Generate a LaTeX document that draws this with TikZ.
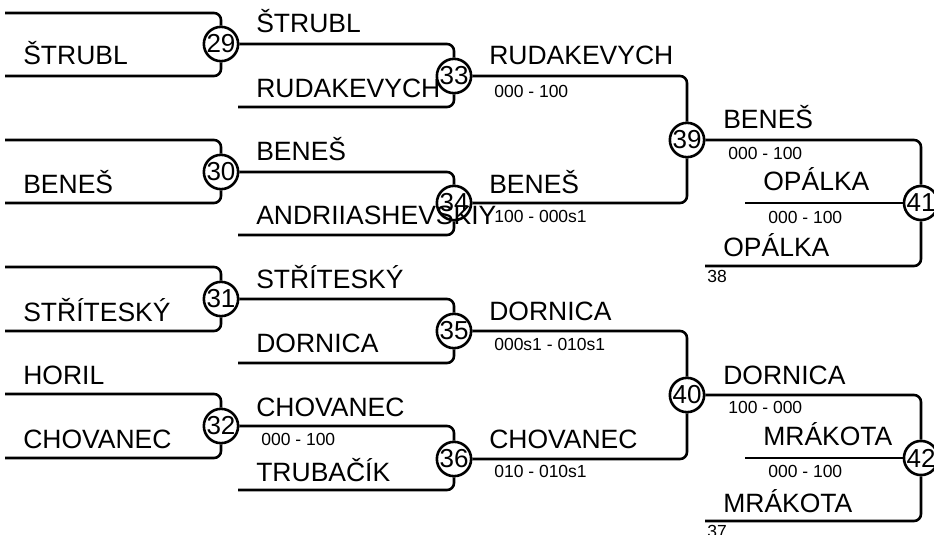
\documentclass[tikz,border=0pt]{standalone}
\usepackage{fontspec}
\setmainfont{Liberation Sans}

\begin{document}
\begin{tikzpicture}[x=1pt, y=-1pt, line width=2.6pt,
every node/.style={inner sep=0pt},
bout/.style={draw, circle, minimum size=34pt, font=\fontsize{26}{26}\selectfont},
player/.style={anchor=base west, font=\fontsize{26.5}{30}\selectfont},
result/.style={anchor=base west, font=\fontsize{17.5}{20}\selectfont},
]
\useasboundingbox (0,0) rectangle (934,535);

% bouts
\path
(221,44) node[bout] (m29) {29}
(221,172) node[bout] (m30) {30}
(221,299) node[bout] (m31) {31}
(221,426) node[bout] (m32) {32}
(454,76) node[bout] (m33) {33}
(454,203) node[bout] (m34) {34}
(454,331) node[bout] (m35) {35}
(454,459) node[bout] (m36) {36}
(687,140) node[bout] (m39) {39}
(687,395) node[bout] (m40) {40}
(921,203) node[bout] (m41) {41}
(921,458) node[bout] (m42) {42}
;

% free line ends
\path
(5,13) coordinate (t29) (5,76) coordinate (b29)
(5,140) coordinate (t30) (5,203) coordinate (b30)
(5,267) coordinate (t31) (5,331) coordinate (b31)
(5,394) coordinate (t32) (5,458) coordinate (b32)
(238,107) coordinate (b33) (238,235) coordinate (b34)
(238,363) coordinate (b35) (238,490) coordinate (b36)
(745,203) coordinate (c41) (705,266) coordinate (b41)
(745,458) coordinate (c42) (705,521) coordinate (b42)
;

% bracket lines
\begin{scope}[rounded corners=7pt]
\draw (t29) -| (m29) ;
\draw (b29) -| (m29) ;
\draw (t30) -| (m30) ;
\draw (b30) -| (m30) ;
\draw (t31) -| (m31) ;
\draw (b31) -| (m31) ;
\draw (t32) -| (m32) ;
\draw (b32) -| (m32) ;
\draw (m29) -| (m33) ;
\draw (b33) -| (m33) ;
\draw (m30) -| (m34) ;
\draw (b34) -| (m34) ;
\draw (m31) -| (m35) ;
\draw (b35) -| (m35) ;
\draw (m32) -| (m36) ;
\draw (b36) -| (m36) ;
\draw (m33) -| (m39) ;
\draw (m34) -| (m39) ;
\draw (m35) -| (m40) ;
\draw (m36) -| (m40) ;
\draw (m39) -| (m41) ;
\draw (c41) -- (m41) ;
\draw (b41) -| (m41) ;
\draw (m40) -| (m42) ;
\draw (c42) -- (m42) ;
\draw (b42) -| (m42) ;
\end{scope}

% players
\path
(22,65) node[player] (n1) {ŠTRUBL}
(22,193) node[player] (n2) {BENEŠ}
(22,321) node[player] (n3) {STŘÍTESKÝ}
(22,384) node[player] (n4) {HORIL}
(22,448) node[player] (n5) {CHOVANEC}
(255,33) node[player] (n6) {ŠTRUBL}
(255,97) node[player] (n7) {RUDAKEVYCH}
(255,160) node[player] (n8) {BENEŠ}
(255,224) node[player] (n9) {ANDRIIASHEVSKIY}
(255,288) node[player] (n10) {STŘÍTESKÝ}
(255,352) node[player] (n11) {DORNICA}
(255,416) node[player] (n12) {CHOVANEC}
(255,481) node[player] (n13) {TRUBAČÍK}
(488,65) node[player] (n14) {RUDAKEVYCH}
(488,193) node[player] (n15) {BENEŠ}
(488,320) node[player] (n16) {DORNICA}
(488,448) node[player] (n17) {CHOVANEC}
(722,128) node[player] (n18) {BENEŠ}
(762,190) node[player] (n19) {OPÁLKA}
(722,256) node[player] (n20) {OPÁLKA}
(722,384) node[player] (n21) {DORNICA}
(762,445) node[player] (n22) {MRÁKOTA}
(722,512) node[player] (n23) {MRÁKOTA}
;

% results
\path
(260,445) node[result] (s32) {000 - 100}
(493,97) node[result] (s33) {000 - 100}
(493,222) node[result] (s34) {100 - 000s1}
(493,350) node[result] (s35) {000s1 - 010s1}
(493,477) node[result] (s36) {010 - 010s1}
(727,159) node[result] (s39) {000 - 100}
(767,223) node[result] (s41) {000 - 100}
(727,413) node[result] (s40) {100 - 000}
(767,477) node[result] (s42) {000 - 100}
(706,282) node[result] (f38) {38}
(706,537) node[result] (f37) {37}
;
\end{tikzpicture}
\end{document}
